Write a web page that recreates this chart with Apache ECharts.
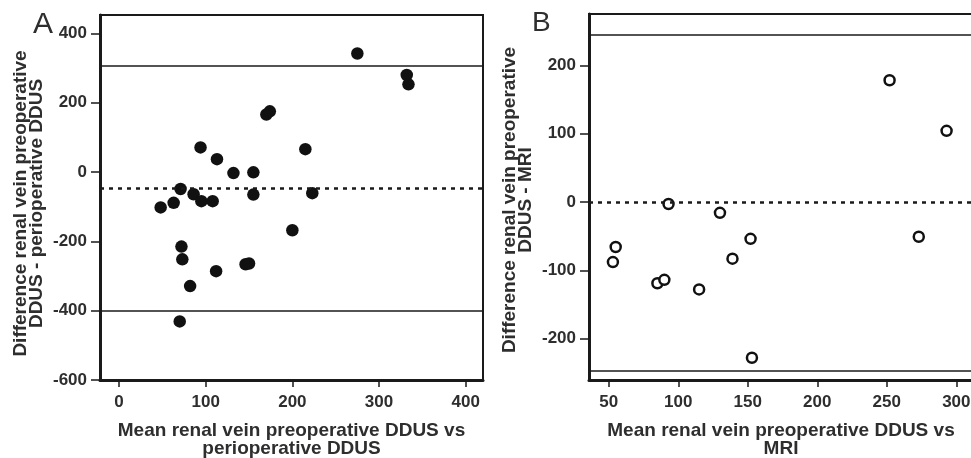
<!DOCTYPE html>
<html>
<head>
<meta charset="utf-8">
<script src="https://cdn.jsdelivr.net/npm/echarts@6/dist/echarts.min.js"></script>
<style>html,body{margin:0;padding:0;background:#fff;}#c{width:971px;height:458px;}</style>
</head>
<body>
<div id="c"></div>
<script>
// Panel A: preoperative vs perioperative DDUS
const meanA = [275, 332, 334, 170, 174, 94, 113, 132, 155, 215, 71, 86, 95, 108, 63, 48, 155, 223, 200, 72, 73, 82, 112, 146, 150, 70];
const diffA = [342, 280, 253, 166, 175, 71, 37, -3, -1, 66, -49, -64, -84, -84, -89, -102, -65, -61, -168, -215, -252, -329, -286, -266, -264, -431];
const linesA = { upper: 306, mean: -48, lower: -401 };
const xTicksA = [0, 100, 200, 300, 400];
const yTicksA = [-600, -400, -200, 0, 200, 400];

// Panel B: preoperative DDUS vs MRI
const meanB = [252, 293, 93, 130, 152, 273, 55, 53, 139, 85, 90, 115, 153];
const diffB = [178, 104, -3, -16, -54, -51, -66, -88, -83, -119, -114, -128, -228];
const linesB = { upper: 244, mean: 0, lower: -247 };
const xTicksB = [50, 100, 150, 200, 250, 300];
const yTicksB = [-200, -100, 0, 100, 200];

const txt = '#2e2e2e';
const ink = '#1a1a1a';
const font = 'Liberation Sans, Arial, sans-serif';

function xAxisCfg(grid, min, max, ticks, name) {
  return {
    type: 'value', gridIndex: grid, min: min, max: max,
    name: name, nameLocation: 'middle', nameGap: 42,
    nameTextStyle: { color: txt, fontFamily: font, fontWeight: 'bold', fontSize: 19, lineHeight: 18 },
    axisLine: { show: true, onZero: false, lineStyle: { color: ink, width: 3 } },
    axisTick: { show: true, inside: false, length: 7, customValues: ticks, lineStyle: { color: ink, width: 1.5 } },
    axisLabel: { customValues: ticks, margin: 14, color: txt, fontFamily: font, fontWeight: 'bold', fontSize: 17 },
    splitLine: { show: false }
  };
}
function yAxisCfg(grid, min, max, ticks, name, shift) {
  return {
    type: 'value', gridIndex: grid, min: min, max: max,
    name: name, nameLocation: 'middle', nameRotate: 90, nameGap: 55,
    nameTextStyle: { color: txt, fontFamily: font, fontWeight: 'bold', fontSize: 19, lineHeight: 16, padding: [0, shift, 0, 0] },
    axisLine: { show: true, onZero: false, lineStyle: { color: ink, width: 3 } },
    axisTick: { show: true, inside: false, length: 9, customValues: ticks, lineStyle: { color: ink, width: 1.5 } },
    axisLabel: { customValues: ticks, margin: 13, color: txt, fontFamily: font, fontWeight: 'bold', fontSize: 17 },
    splitLine: { show: false }
  };
}
function lines(l) {
  return {
    silent: true, symbol: 'none', label: { show: false },
    data: [
      { yAxis: l.upper, lineStyle: { type: 'solid', color: ink, width: 1.6 } },
      { yAxis: l.mean, lineStyle: { type: [4, 5], color: ink, width: 2.5 } },
      { yAxis: l.lower, lineStyle: { type: 'solid', color: ink, width: 1.6 } }
    ]
  };
}

const chart = echarts.init(document.getElementById('c'), null, { renderer: 'canvas' });
chart.setOption({
  backgroundColor: '#ffffff',
  animation: false,
  title: [
    { text: 'A', left: 28, top: 5, textStyle: { color: txt, fontFamily: font, fontWeight: 'normal', fontSize: 30 } },
    { text: 'B', left: 527, top: 4, textStyle: { color: txt, fontFamily: font, fontWeight: 'normal', fontSize: 28 } }
  ],
  grid: [
    { left: 100, right: 488, top: 15, bottom: 78, show: true, borderColor: ink, borderWidth: 2, backgroundColor: 'transparent', outerBoundsMode: 'none', containLabel: false },
    { left: 589, right: -2, top: 14, bottom: 78, show: true, borderColor: ink, borderWidth: 2, backgroundColor: 'transparent', outerBoundsMode: 'none', containLabel: false }
  ],
  xAxis: [
    xAxisCfg(0, -22, 420, xTicksA, 'Mean renal vein preoperative DDUS vs\nperioperative DDUS'),
    xAxisCfg(1, 35.8, 312, xTicksB, 'Mean renal vein preoperative DDUS vs\nMRI')
  ],
  yAxis: [
    yAxisCfg(0, -600, 453, yTicksA, 'Difference renal vein preoperative\nDDUS - perioperative DDUS', 12),
    yAxisCfg(1, -260.6, 275, yTicksB, 'Difference renal vein preoperative\nDDUS - MRI', 6)
  ],
  series: [
    {
      type: 'scatter', xAxisIndex: 0, yAxisIndex: 0,
      data: meanA.map((v, i) => [v, diffA[i]]),
      symbol: 'circle', symbolSize: 12.5,
      itemStyle: { color: '#111', opacity: 1 },
      markLine: lines(linesA), z: 3
    },
    {
      type: 'scatter', xAxisIndex: 1, yAxisIndex: 1,
      data: meanB.map((v, i) => [v, diffB[i]]),
      symbol: 'circle', symbolSize: 10,
      itemStyle: { color: '#ffffff', borderColor: '#111', borderWidth: 2.5, opacity: 1 },
      markLine: lines(linesB), z: 3
    }
  ]
});
</script>
</body>
</html>
